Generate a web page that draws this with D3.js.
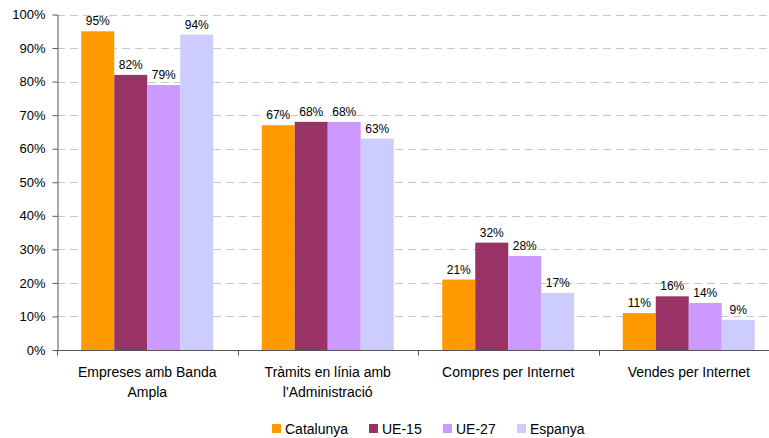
<!DOCTYPE html>
<html><head><meta charset="utf-8">
<script src="https://cdn.jsdelivr.net/npm/d3@7"></script>
<style>body{margin:0;background:#fff;}svg{display:block;font-family:Arial,"Liberation Sans",sans-serif;}</style>
</head><body><svg id="c" width="769" height="438"></svg>
<script>
const categories = [["Empreses amb Banda","Ampla"],["Tràmits en línia amb","l'Administració"],["Compres per Internet"],["Vendes per Internet"]];
const seriesNames = ["Catalunya","UE-15","UE-27","Espanya"];
const catalunya = [95,67,21,11];
const ue15 = [82,68,32,16];
const ue27 = [79,68,28,14];
const espanya = [94,63,17,9];
const yTicks = [0,10,20,30,40,50,60,70,80,90,100];
const colors = ["#FF9900","#993366","#CC99FF","#CCCCFF"];
const series = [catalunya,ue15,ue27,espanya];

(function(){
const FONT = "Arial, 'Liberation Sans', sans-serif";
const svg = d3.select("#c");
const mLeft = 57, mRight = 779, mTop = 14.5, mBottom = 350;
const x0 = d3.scaleBand().domain(d3.range(categories.length)).range([mLeft,mRight]).paddingInner(0).paddingOuter(0);
const x1 = d3.scaleBand().domain(d3.range(seriesNames.length)).range([0,x0.bandwidth()]).paddingInner(0).paddingOuter(0.735);
const y = d3.scaleLinear().domain([0,100]).range([mBottom,mTop]);

svg.append("g").selectAll("line").data(yTicks.filter(d=>d>0)).join("line")
  .attr("x1",mLeft).attr("x2",769).attr("y1",d=>Math.round(y(d))+0.5).attr("y2",d=>Math.round(y(d))+0.5)
  .attr("stroke","#c8c8c8").attr("stroke-dasharray","8,5");

const g = svg.append("g");
series.forEach((s,si)=>{
  g.selectAll(null).data(s).join("rect")
    .attr("x",(d,i)=>x0(i)+x1(si)).attr("width",x1.bandwidth())
    .attr("y",d=>y(d)).attr("height",d=>mBottom-y(d)).attr("fill",colors[si]);
  g.selectAll(null).data(s).join("text")
    .attr("x",(d,i)=>x0(i)+x1(si)+x1.bandwidth()/2).attr("y",d=>y(d)-6)
    .attr("text-anchor","middle").attr("font-size",12).attr("font-family",FONT).attr("fill","#000").text(d=>d+"%");
});

const yAxis = d3.axisLeft(y).tickValues(yTicks).tickFormat(d=>d+"%").tickSize(5).tickSizeOuter(0);
const ya = svg.append("g").attr("transform",`translate(${mLeft+0.5},0)`).call(yAxis);
ya.select(".domain").attr("stroke","#555");
ya.selectAll(".tick line").attr("stroke","#555");
ya.selectAll(".tick text").attr("font-size",13).attr("fill","#000").attr("font-family",FONT).attr("x",-12);

const xa = svg.append("g").attr("transform",`translate(0,${mBottom+0.5})`);
xa.append("line").attr("x1",mLeft).attr("x2",769).attr("stroke","#555");
xa.selectAll("line.t").data(d3.range(categories.length+1)).join("line").attr("class","t")
  .attr("x1",i=>Math.round(mLeft+i*x0.step())+0.5).attr("x2",i=>Math.round(mLeft+i*x0.step())+0.5)
  .attr("y1",0).attr("y2",5).attr("stroke","#555");
categories.forEach((lines,i)=>{
  const t = svg.append("text").attr("text-anchor","middle").attr("font-size",14).attr("font-family",FONT).attr("fill","#000");
  lines.forEach((ln,j)=>t.append("tspan").attr("x",x0(i)+x0.bandwidth()/2).attr("y",377+j*20).text(ln));
});

const legX = [272,369,443,517];
seriesNames.forEach((n,i)=>{
  svg.append("rect").attr("x",legX[i]).attr("y",424).attr("width",9).attr("height",9).attr("fill",colors[i]);
  svg.append("text").attr("x",legX[i]+13).attr("y",434).attr("font-size",14).attr("font-family",FONT).attr("fill","#000").text(n);
});
})();
</script></body></html>
